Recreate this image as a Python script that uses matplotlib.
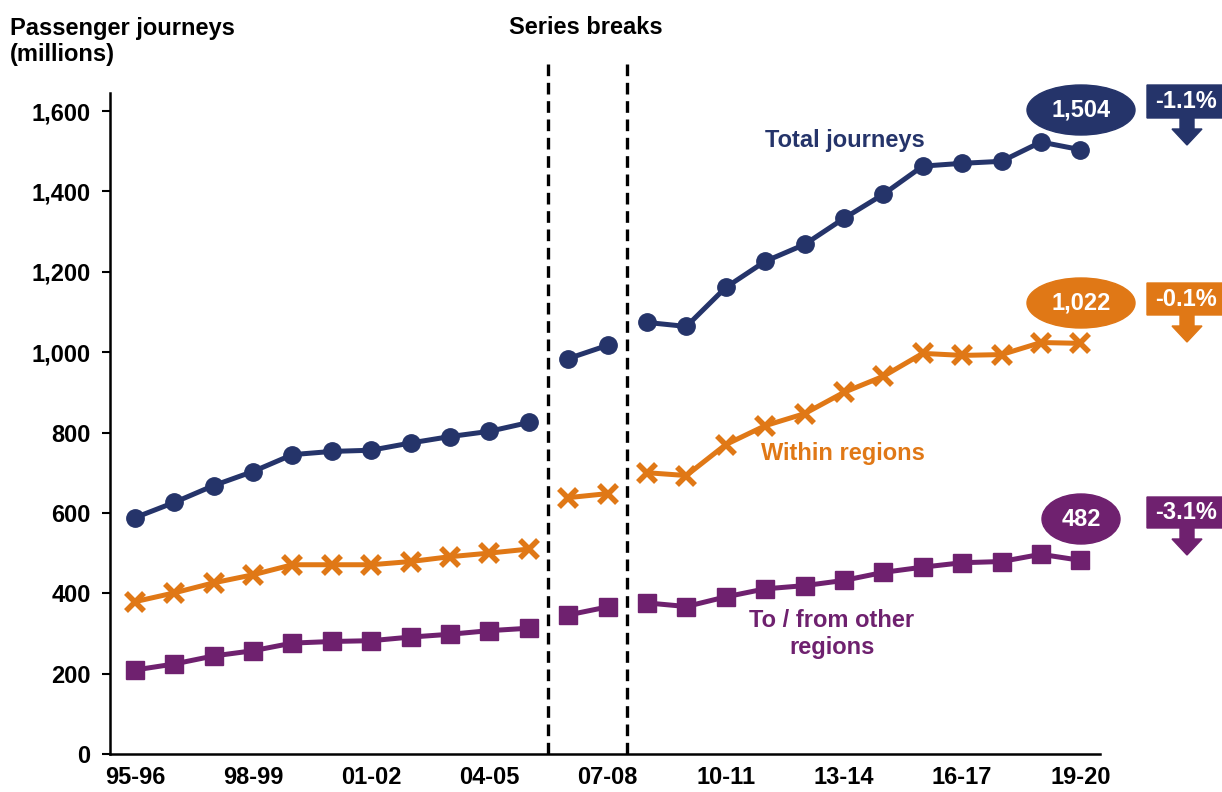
import matplotlib
matplotlib.use("Agg")
import matplotlib.pyplot as plt
from matplotlib.patches import Ellipse, Polygon

plt.rcParams["font.family"] = ["Liberation Sans", "DejaVu Sans"]
plt.rcParams["font.weight"] = "bold"

years = ["95-96", "96-97", "97-98", "98-99", "99-00", "00-01", "01-02", "02-03",
         "03-04", "04-05", "05-06", "06-07", "07-08", "08-09", "09-10", "10-11",
         "11-12", "12-13", "13-14", "14-15", "15-16", "16-17", "17-18", "18-19",
         "19-20"]
total = [588, 626, 668, 703, 745, 753, 756, 774, 790, 803, 825,
         984, 1017,
         1074, 1064, 1161, 1226, 1268, 1333, 1393, 1463, 1470, 1475, 1523, 1504]
within = [379, 401, 426, 446, 471, 471, 471, 479, 491, 500, 510,
          638, 648,
          700, 693, 770, 817, 847, 900, 940, 997, 992, 994, 1024, 1022]
other = [209, 224, 244, 257, 276, 280, 282, 291, 298, 307, 313,
         346, 366,
         376, 367, 391, 411, 419, 432, 452, 465, 476, 479, 497, 482]
# series are broken into three runs by the methodology changes
segments = [(0, 11), (11, 13), (13, 25)]
breaks = [10.5, 12.5]
tick_years = ["95-96", "98-99", "01-02", "04-05", "07-08", "10-11", "13-14",
              "16-17", "19-20"]
latest = ["1,504", "1,022", "482"]
changes = ["-1.1%", "-0.1%", "-3.1%"]

NAVY, ORANGE, PURPLE = "#25346a", "#e07816", "#6f216f"
W, H = 1222, 792
FS = 17


def fx(x):
    return x / W


def fy(y):
    return 1 - y / H


fig = plt.figure(figsize=(W / 100, H / 100), dpi=100)
ax = fig.add_axes([fx(110), fy(754), fx(1100) - fx(110), fy(93) - fy(754)])

xs = list(range(len(years)))
styles = [(total, NAVY, dict(marker="o", ms=12.5)),
          (within, ORANGE, dict(marker="x", ms=13, mew=4)),
          (other, PURPLE, dict(marker="s", ms=12.5))]
for vals, col, mk in styles:
    for a, b in segments:
        ax.plot(xs[a:b], vals[a:b], color=col, lw=3.6, mec=col, mfc=col,
                solid_capstyle="round", **mk)

for b in breaks:
    ax.axvline(b, ymin=0, ymax=(754 - 60) / (754 - 93), color="black", lw=2.4,
               ls=(0, (3.5, 2)), clip_on=False)

ax.set_xlim(-0.63, 24.5)
ax.set_ylim(0, 1645)
ax.set_yticks(range(0, 1601, 200))
ax.set_yticklabels([f"{v:,}" for v in range(0, 1601, 200)])
ax.set_xticks([years.index(t) for t in tick_years])
ax.set_xticklabels(tick_years)
ax.tick_params(axis="y", length=6, width=1.5, labelsize=FS, pad=8)
ax.tick_params(axis="x", length=0, labelsize=FS, pad=9)
for s in ["top", "right"]:
    ax.spines[s].set_visible(False)
for s in ["left", "bottom"]:
    ax.spines[s].set_linewidth(1.8)

fig.text(fx(10), fy(17), "Passenger journeys\n(millions)", fontsize=FS,
         fontweight="bold", va="top", ha="left", linespacing=1.18)
fig.text(fx(586), fy(28), "Series breaks", fontsize=FS, fontweight="bold",
         ha="center", va="center")

fig.text(fx(845), fy(141), "Total journeys", color=NAVY, fontsize=FS,
         ha="center", va="center")
fig.text(fx(843), fy(453), "Within regions", color=ORANGE, fontsize=FS,
         ha="center", va="center")
fig.text(fx(832), fy(634), "To / from other\nregions", color=PURPLE,
         fontsize=FS, ha="center", va="center", linespacing=1.18)

# callouts: ellipse with latest value and down-arrow box with yearly change
callouts = [(NAVY, 110, 108, 85, 118), (ORANGE, 303, 108, 283, 315),
            (PURPLE, 519, 78, 497, 528)]
for (col, ey, ew, top, bot), val, chg in zip(callouts, latest, changes):
    fig.patches.append(Ellipse((fx(1081), fy(ey)), ew / W, 50 / H,
                               transform=fig.transFigure, color=col))
    fig.text(fx(1081), fy(ey), val, color="white", fontsize=FS,
             ha="center", va="center")
    pts = [(1147, top), (1235, top), (1235, bot), (1194, bot), (1194, bot + 11),
           (1202, bot + 11), (1187, bot + 27), (1172, bot + 11), (1180, bot + 11),
           (1180, bot), (1147, bot)]
    fig.patches.append(Polygon([(fx(x), fy(y)) for x, y in pts], closed=True,
                               transform=fig.transFigure, color=col))
    fig.text(fx(1186), fy((top + bot) / 2), chg, color="white", fontsize=FS,
             ha="center", va="center")

fig.savefig("out.png", dpi=100)
